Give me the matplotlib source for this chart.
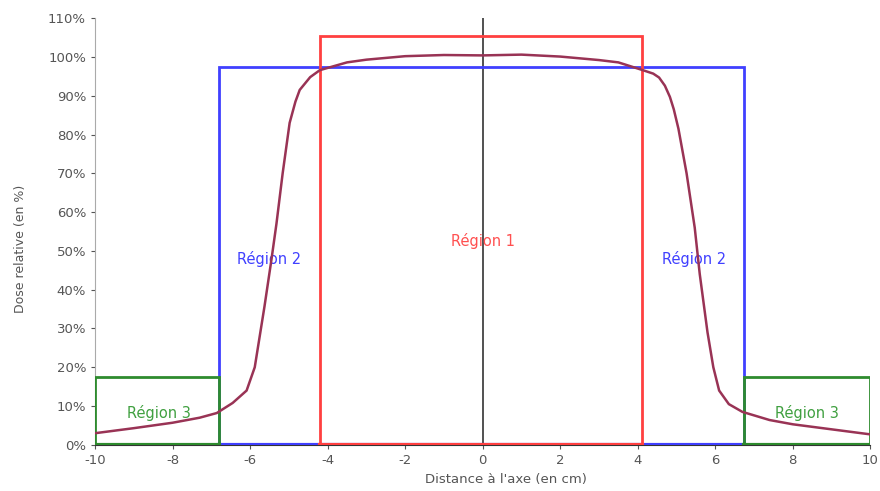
import matplotlib
matplotlib.use("Agg")
import matplotlib.pyplot as plt
from matplotlib.ticker import PercentFormatter

plt.rcParams['axes.unicode_minus'] = False

# Dose profile
profile_x = [-10, -9, -8, -7.3, -6.86, -6.45, -6.09, -5.88, -5.63, -5.45, -5.32, -5.16, -4.98, -4.83, -4.72, -4.45, -4.2,
             -3.5, -3, -2, -1, 0, 1, 2, 3, 3.5, 4.13, 4.4, 4.55, 4.7, 4.83, 4.93, 5.05, 5.26, 5.47, 5.6, 5.8, 5.95, 6.1,
             6.35, 6.7, 7.4, 8, 9, 10]
profile_y = [3.0, 4.3, 5.7, 7.0, 8.2, 10.8, 14.0, 20.0, 35.6, 47.7, 57.0, 70.0, 83.0, 88.5, 91.5, 94.8, 96.6,
             98.6, 99.3, 100.2, 100.5, 100.4, 100.6, 100.1, 99.2, 98.6, 96.6, 95.7, 94.7, 92.6, 89.7, 86.5, 81.5,
             70.0, 56.0, 44.0, 29.0, 20.0, 14.0, 10.5, 8.5, 6.4, 5.3, 4.0, 2.7]

# Region boxes: (x_left, x_right, top)
region1 = (-4.2, 4.1, 105.5)
region2 = (-6.8, 6.75, 97.5)
region3_left = (-10, -6.8, 17.5)
region3_right = (6.75, 10, 17.5)

xticks = [-10, -8, -6, -4, -2, 0, 2, 4, 6, 8, 10]
yticks = [0, 10, 20, 30, 40, 50, 60, 70, 80, 90, 100, 110]

fig = plt.figure(figsize=(8.8, 4.91), dpi=100)
ax = fig.add_axes([0.108, 0.094, 0.881, 0.869])

def box(x0, x1, top, color, lw=2.0):
    ax.plot([x0, x0, x1, x1], [0, top, top, 0], color=color, lw=lw, solid_joinstyle='miter', zorder=3)
    ax.plot([x0, x1], [0, 0], color=color, lw=lw + 1, zorder=3)

blue = "#4040ff"
red = "#ff4040"
green = "#2e8b2e"
box(region2[0], region2[1], region2[2], blue)
box(region3_left[0], region3_left[1], region3_left[2], green)
box(region3_right[0], region3_right[1], region3_right[2], green)
box(region1[0], region1[1], region1[2], red)
ax.plot([0, 0], [0, 110], color="#333333", lw=1.2, zorder=2)
ax.plot(profile_x, profile_y, color="#993355", lw=1.8, zorder=4)

fs = 10.5
ax.text(0, 52.5, "Région 1", color="#ff5050", fontsize=fs, ha="center", va="center")
ax.text(-5.52, 48, "Région 2", color="#4040ff", fontsize=fs, ha="center", va="center")
ax.text(5.45, 48, "Région 2", color="#4040ff", fontsize=fs, ha="center", va="center")
ax.text(-8.35, 8.2, "Région 3", color="#40a040", fontsize=fs, ha="center", va="center")
ax.text(8.36, 8.2, "Région 3", color="#40a040", fontsize=fs, ha="center", va="center")

ax.set_xlim(-10, 10)
ax.set_ylim(0, 110)
ax.set_xticks(xticks)
ax.set_yticks(yticks)
ax.yaxis.set_major_formatter(PercentFormatter(decimals=0))
for s in ["top", "right"]:
    ax.spines[s].set_visible(False)
ax.spines["left"].set_color("#aaaaaa")
ax.spines["bottom"].set_color("#333333")
ax.tick_params(labelsize=9.5, colors="#555555", length=3)
ax.set_xlabel("Distance à l'axe (en cm)", fontsize=9.5, color="#555555", labelpad=2)
ax.xaxis.set_label_coords(0.53, -0.065)
ax.set_ylabel("Dose relative (en %)", fontsize=9, color="#555555", labelpad=6)
ax.yaxis.set_label_coords(-0.088, 0.46)

fig.savefig("out.png", dpi=100)
